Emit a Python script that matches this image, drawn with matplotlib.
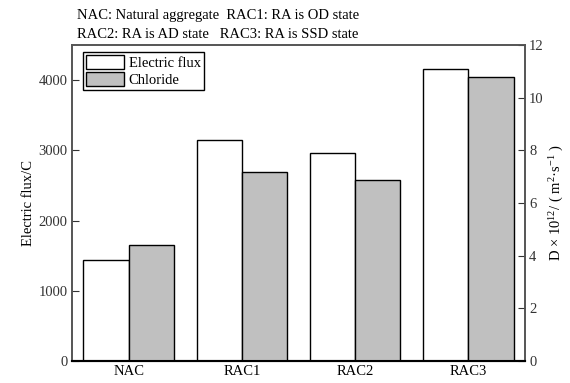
import matplotlib
matplotlib.use("Agg")
import matplotlib.pyplot as plt
import numpy as np

categories = ["NAC", "RAC1", "RAC2", "RAC3"]
electric_flux = [1442, 3149, 2964, 4154]
chloride = [4.40, 7.19, 6.88, 10.79]
left_ticks = [0, 1000, 2000, 3000, 4000]
right_ticks = [0, 2, 4, 6, 8, 10, 12]

plt.rcParams['font.family'] = ['Liberation Serif', 'DejaVu Serif']
plt.rcParams['mathtext.fontset'] = 'custom'
plt.rcParams['mathtext.rm'] = 'Liberation Serif'
plt.rcParams['mathtext.it'] = 'Liberation Serif:italic'

fs = 10.5
fig = plt.figure(figsize=(5.7, 3.83), dpi=100)
ax = fig.add_axes([0.1263, 0.0574, 0.921 - 0.1263, 0.8825 - 0.0574])
ax2 = ax.twinx()

x = np.arange(len(categories))
w = 0.4
b1 = ax.bar(x - w / 2, electric_flux, width=w, color='white', edgecolor='black', linewidth=1.0, label='Electric flux')
b2 = ax2.bar(x + w / 2, chloride, width=w, color='#c0c0c0', edgecolor='black', linewidth=1.0, label='Chloride')

ax.set_xlim(-0.5, 3.5)
ax.set_ylim(0, 4500)
ax2.set_ylim(0, 12)
ax.set_yticks(left_ticks)
ax2.set_yticks(right_ticks)
ax.set_xticks(x)
ax.set_xticklabels(categories, fontsize=fs)
ax.tick_params(axis='y', direction='in', length=5, labelsize=fs, colors='#333333', pad=3)
ax.tick_params(axis='x', length=0, labelsize=fs, pad=3)
ax2.tick_params(axis='y', direction='in', length=5, labelsize=fs, colors='#333333', pad=3)
for a in (ax, ax2):
    for s in ['left', 'right', 'top']:
        a.spines[s].set_color('#555555')
        a.spines[s].set_linewidth(1.2)
    a.spines['bottom'].set_color('black')
    a.spines['bottom'].set_linewidth(1.5)

ax.set_ylabel('Electric flux/C', fontsize=fs, labelpad=3)
ax2.set_ylabel(r'D × 10$^{\mathrm{12}}$/ ( m$^{\mathrm{2}}$·s$^{\mathrm{-1}}$ )', fontsize=fs, labelpad=3, rotation=90)

leg = ax.legend([b1, b2], ['Electric flux', 'Chloride'], loc='upper left',
                bbox_to_anchor=(0.025, 0.978), fontsize=fs, frameon=True, fancybox=False,
                edgecolor='black', framealpha=1, handlelength=2.6, handleheight=1.15,
                labelspacing=0.1, borderpad=0.2, handletextpad=0.3, borderaxespad=0.0)
leg.get_frame().set_linewidth(1.0)

fig.text(77 / 570, 1 - 15 / 383, 'NAC: Natural aggregate  RAC1: RA is OD state', fontsize=fs, va='center', ha='left')
fig.text(77 / 570, 1 - 34 / 383, 'RAC2: RA is AD state   RAC3: RA is SSD state', fontsize=fs, va='center', ha='left')

fig.savefig('out.png', dpi=100)
